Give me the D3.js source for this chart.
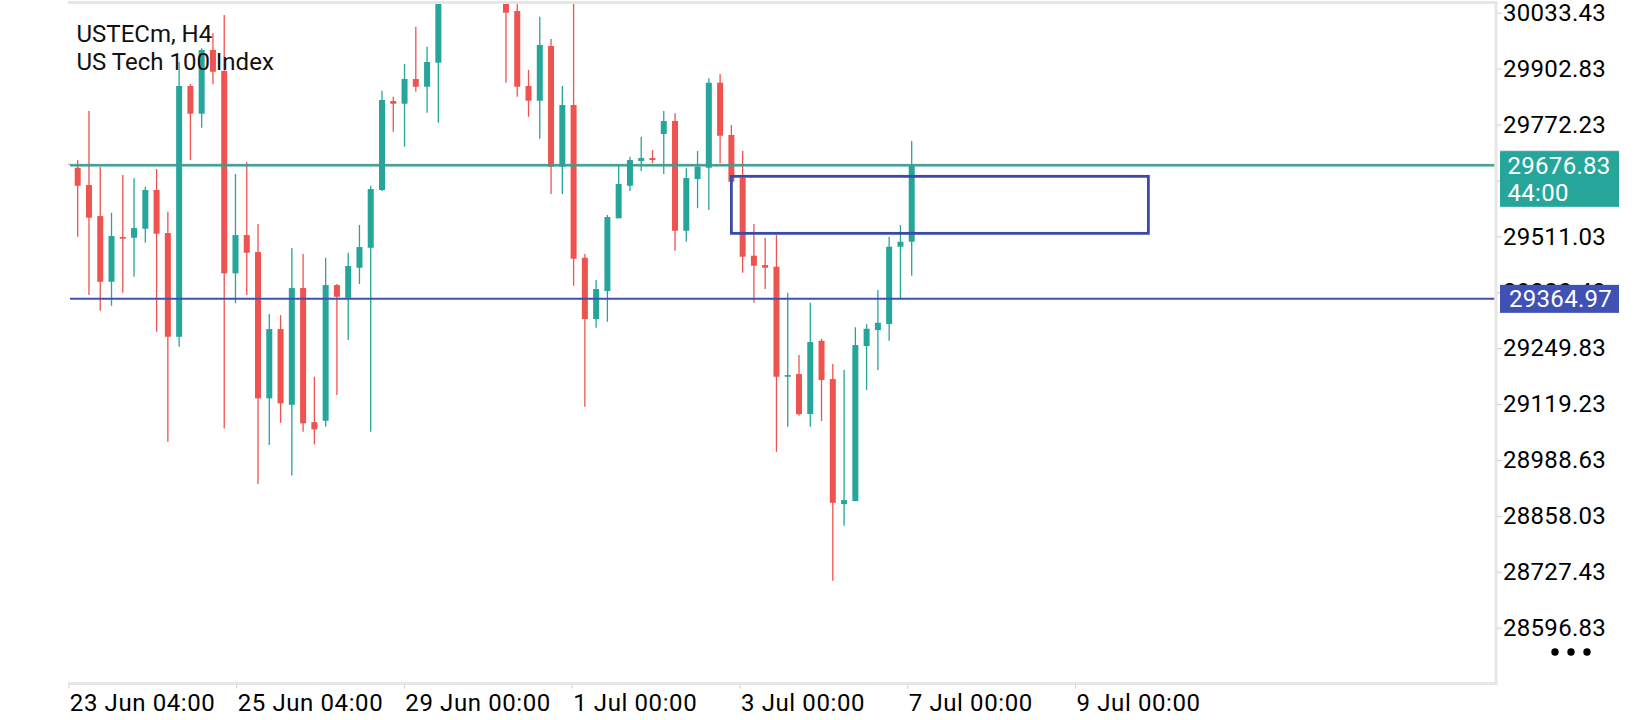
<!DOCTYPE html>
<html>
<head>
<meta charset="utf-8">
<title>USTECm, H4</title>
<script src="https://cdn.jsdelivr.net/npm/d3@7"></script>
<style>
  html, body { margin: 0; padding: 0; background: #fff; }
  svg { display: block; font-family: Roboto, "Noto Sans", sans-serif; }
</style>
</head>
<body>
<svg id="chart" width="1640" height="720"></svg>
<script>
/* ── Data ───────────────────────────────────────────────── */
const opens = [
  29671.3, 29630.9, 29558.4, 29404.9, 29509.4, 29507.7, 29528.8, 29619.2, 29518.7, 29276.4,
  29862.2, 29797.5, 29946.3, 29897.2, 29424.6, 29514.0, 29474.3, 29132.5, 29294.4, 29117.6,
  29390.2, 29077.1, 29080.2, 29397.2, 29367.6, 29437.6, 29484.4, 29619.2, 29827.1, 29820.8,
  29878.5, 29860.5, 29916.6, 30110.0, 30160.0, 30210.0, 30170.0, 30120.0, 30095.0, 30037.4,
  29862.2, 29827.8, 29955.6, 29673.6, 29817.8, 29461.0, 29317.8, 29383.2, 29553.1, 29629.2,
  29686.9, 29693.9, 29750.0, 29780.4, 29524.1, 29644.9, 29671.3, 29869.9, 29747.7, 29647.9,
  29465.7, 29444.0, 29440.0, 29183.0, 29189.3, 29095.8, 29267.1, 29177.6, 28885.6, 28892.6,
  29254.7, 29292.1, 29306.1, 29486.7, 29498.4
];
const highs = [
  29689.3, 29803.8, 29673.6, 29566.1, 29654.2, 29646.5, 29626.9, 29668.2, 29568.5, 29918.2,
  29866.8, 29950.3, 29985.3, 30028.1, 29656.6, 29683.9, 29539.7, 29329.5, 29327.1, 29483.7,
  29469.7, 29183.0, 29461.0, 29399.6, 29472.7, 29537.4, 29629.2, 29851.2, 29837.2, 29913.6,
  30000.7, 29954.0, 30130.0, 30180.0, 30230.0, 30260.0, 30200.0, 30150.0, 30110.0, 30070.0,
  29899.6, 30024.1, 29972.0, 29862.2, 30065.0, 29469.7, 29408.9, 29560.8, 29676.0, 29697.0,
  29743.7, 29712.6, 29803.8, 29798.4, 29669.9, 29710.3, 29880.2, 29890.2, 29771.0, 29710.3,
  29539.7, 29507.7, 29514.0, 29379.2, 29233.7, 29355.9, 29271.8, 29212.7, 29198.6, 29298.4,
  29306.1, 29385.5, 29510.1, 29537.4, 29733.7
];
const lows = [
  29510.1, 29373.9, 29337.2, 29348.9, 29379.2, 29416.6, 29496.1, 29288.1, 29031.1, 29253.1,
  29689.3, 29764.7, 29866.1, 29062.4, 29354.5, 29373.9, 28932.3, 29023.4, 29075.5, 28952.6,
  29054.5, 29025.0, 29066.2, 29140.2, 29268.7, 29399.6, 29054.5, 29616.8, 29755.4, 29720.4,
  29848.9, 29799.8, 29776.4, 30085.0, 30140.0, 30150.0, 30090.0, 30075.0, 29869.9, 29837.2,
  29790.4, 29739.0, 29609.8, 29609.8, 29395.6, 29112.9, 29297.5, 29311.5, 29553.1, 29616.8,
  29663.6, 29681.6, 29656.6, 29477.4, 29498.4, 29576.4, 29572.5, 29681.6, 29633.2, 29426.0,
  29355.9, 29387.9, 29007.7, 29066.2, 29091.9, 29066.2, 29079.5, 28706.4, 28834.8, 28892.6,
  29151.9, 29198.6, 29267.1, 29366.1, 29419.0
];
const closes = [
  29629.2, 29554.5, 29404.9, 29511.7, 29505.4, 29530.4, 29619.2, 29517.1, 29276.4, 29862.2,
  29797.5, 29946.3, 29895.6, 29424.6, 29514.0, 29472.7, 29132.5, 29294.4, 29120.8, 29390.2,
  29074.1, 29060.1, 29397.2, 29369.9, 29441.6, 29486.0, 29621.5, 29829.5, 29820.8, 29878.5,
  29860.5, 29918.2, 30110.0, 30160.0, 30210.0, 30170.0, 30120.0, 30095.0, 30033.4, 29860.5,
  29827.8, 29958.0, 29673.6, 29817.8, 29458.7, 29317.8, 29387.9, 29556.1, 29633.2, 29689.3,
  29693.9, 29689.3, 29780.4, 29524.1, 29647.2, 29673.6, 29869.9, 29746.0, 29638.6, 29463.4,
  29442.3, 29437.6, 29183.0, 29187.0, 29095.8, 29264.1, 29175.3, 28888.6, 28894.9, 29257.0,
  29295.1, 29309.1, 29486.7, 29498.4, 29676.83
];

const priceTicks = [
  30033.43, 29902.83, 29772.23, 29641.63, 29511.03, 29380.43,
  29249.83, 29119.23, 28988.63, 28858.03, 28727.43, 28596.83
];
const timeTickBars = [-0.83, 14.06, 28.94, 43.83, 58.72, 73.61, 88.5];
const timeLabels   = ['23 Jun 04:00', '25 Jun 04:00', '29 Jun 00:00', '1 Jul 00:00',
                      '3 Jul 00:00', '7 Jul 00:00', '9 Jul 00:00'];

const bidPrice   = 29676.83;
const askPrice   = 29679.3;
const levelPrice = 29364.97;
const zoneBars   = [58, 95];
const zonePrices = [29651.2, 29518.0];
const barTimer   = '44:00';

/* ── Layout ─────────────────────────────────────────────── */
const W = 1640, H = 720;
const plot = { left: 68, right: 1496, top: 2.5, bottom: 683.5 };
const UP = '#26a69a', DOWN = '#ef5350', BLUE = '#3f51b5', FRAME = '#e6e6e6';

const svg = d3.select('#chart');

const x = d3.scaleLinear().domain([0, 74]).range([77.7, 911.7]);
const y = d3.scaleLinear().domain([30033.43, 28596.83]).range([12.7, 627.7]);

const candles = opens.map((o, i) => ({
  i, o, h: highs[i], l: lows[i], c: closes[i]
}));

svg.append('rect').attr('width', W).attr('height', H).attr('fill', '#fff');

const defs = svg.append('defs');
defs.append('clipPath').attr('id', 'plot-clip')
  .append('rect')
  .attr('x', plot.left).attr('y', plot.top + 1)
  .attr('width', plot.right - plot.left - 1.5)
  .attr('height', plot.bottom - plot.top - 2.5);

/* ── Candles ────────────────────────────────────────────── */
function drawCandles() {
  const g = svg.append('g').attr('clip-path', 'url(#plot-clip)');
  const colour = d => d.c >= d.o ? UP : DOWN;

  g.selectAll('line.wick')
    .data(candles)
    .enter()
    .append('line')
    .attr('class', 'wick')
    .attr('x1', d => x(d.i)).attr('x2', d => x(d.i))
    .attr('y1', d => y(d.h)).attr('y2', d => y(d.l))
    .attr('stroke', colour)
    .attr('stroke-width', 1.3);

  g.selectAll('rect.body')
    .data(candles)
    .enter()
    .append('rect')
    .attr('class', 'body')
    .attr('x', d => x(d.i) - 3)
    .attr('width', 6)
    .attr('y', d => y(Math.max(d.o, d.c)))
    .attr('height', d => Math.max(1.5, Math.abs(y(d.o) - y(d.c))))
    .attr('fill', colour);
}

/* ── Levels, zone ───────────────────────────────────────── */
function drawLevels() {
  const g = svg.append('g').attr('clip-path', 'url(#plot-clip)');

  g.append('line')
    .attr('x1', plot.left).attr('x2', plot.right)
    .attr('y1', y(askPrice)).attr('y2', y(askPrice))
    .attr('stroke', DOWN).attr('stroke-width', 1).attr('opacity', 0.7);

  g.append('line')
    .attr('x1', plot.left + 2).attr('x2', plot.right)
    .attr('y1', y(bidPrice)).attr('y2', y(bidPrice))
    .attr('stroke', UP).attr('stroke-width', 2.2);

  g.append('line')
    .attr('x1', plot.left + 2).attr('x2', plot.right)
    .attr('y1', y(levelPrice)).attr('y2', y(levelPrice))
    .attr('stroke', BLUE).attr('stroke-width', 2);

  g.append('rect')
    .attr('x', x(zoneBars[0])).attr('y', y(zonePrices[0]))
    .attr('width', x(zoneBars[1]) - x(zoneBars[0]))
    .attr('height', y(zonePrices[1]) - y(zonePrices[0]))
    .attr('fill', 'none')
    .attr('stroke', '#3a4aa6')
    .attr('stroke-width', 2.8);
}

/* ── Frame + axes ───────────────────────────────────────── */
function drawAxes() {
  const frame = svg.append('g');
  frame.append('path')
    .attr('d', `M${plot.left},${plot.top}H${plot.right}V${plot.bottom}H${plot.left}`)
    .attr('fill', 'none')
    .attr('stroke', FRAME)
    .attr('stroke-width', 3);

  const yAxis = d3.axisRight(y)
    .tickValues(priceTicks)
    .tickFormat(d3.format('.2f'))
    .tickSize(5)
    .tickPadding(1);

  const ya = svg.append('g')
    .attr('transform', `translate(${plot.right + 1},0)`)
    .call(yAxis);
  ya.select('.domain').remove();
  ya.selectAll('.tick line').attr('stroke', '#cfcfcf');
  ya.selectAll('.tick text')
    .attr('fill', '#000')
    .attr('font-size', 24)
    .attr('font-family', 'Roboto')
    .attr('letter-spacing', 0.3);

  // labels fully covered by the bid tag are not drawn
  ya.selectAll('.tick text')
    .filter(d => Math.abs(y(d) - y(bidPrice)) < 28)
    .remove();

  // the one under the level tag only peeks out above the tag's top edge
  // (clip is in the tick's local space: the tick group sits at y(d))
  ya.selectAll('.tick')
    .filter(d => Math.abs(y(d) - y(levelPrice)) < 14)
    .each(function(d) {
      const cut = (y(levelPrice) - 14) - y(d);
      defs.append('clipPath').attr('id', 'above-level-tag')
        .append('rect')
        .attr('x', 0).attr('y', -40)
        .attr('width', 200).attr('height', 40 + cut);
      d3.select(this).select('text').attr('clip-path', 'url(#above-level-tag)');
    });

  const xAxis = d3.axisBottom(x)
    .tickValues(timeTickBars)
    .tickFormat((d, i) => timeLabels[i])
    .tickSize(4)
    .tickPadding(5);

  const xa = svg.append('g')
    .attr('transform', `translate(0,${plot.bottom + 1})`)
    .call(xAxis);
  xa.select('.domain').remove();
  xa.selectAll('.tick line').attr('stroke', '#cfcfcf');
  xa.selectAll('.tick text')
    .attr('text-anchor', 'start')
    .attr('x', 1)
    .attr('fill', '#000')
    .attr('font-size', 24)
    .attr('font-family', 'Roboto')
    .attr('letter-spacing', 0.6);
}

/* ── Price tags on the scale ────────────────────────────── */
function drawTags() {
  const fmt = d3.format('.2f');
  const tx = plot.right + 4;

  const bidY = y(bidPrice);
  svg.append('rect')
    .attr('x', tx).attr('y', bidY - 14.5)
    .attr('width', 119).attr('height', 56)
    .attr('fill', UP);
  svg.append('line')
    .attr('x1', tx).attr('x2', tx + 119)
    .attr('y1', bidY - 14).attr('y2', bidY - 14)
    .attr('stroke', '#b7807a').attr('stroke-width', 1);
  svg.append('text')
    .attr('x', tx + 7.5).attr('y', bidY + 8.5)
    .attr('fill', '#fff').attr('font-size', 24).attr('letter-spacing', 0.3)
    .text(fmt(bidPrice));
  svg.append('text')
    .attr('x', tx + 7.5).attr('y', bidY + 35.5)
    .attr('fill', '#fff').attr('font-size', 24).attr('letter-spacing', 0.3)
    .text(barTimer);

  const lvY = y(levelPrice);
  svg.append('rect')
    .attr('x', tx).attr('y', lvY - 14)
    .attr('width', 119).attr('height', 28)
    .attr('fill', BLUE);
  svg.append('text')
    .attr('x', tx + 9).attr('y', lvY + 8.5)
    .attr('fill', '#fff').attr('font-size', 24).attr('letter-spacing', 0.3)
    .text(fmt(levelPrice));
}

/* ── Title + menu dots ──────────────────────────────────── */
function drawLabels() {
  const t = svg.append('g').attr('fill', '#111').attr('font-size', 24);
  t.append('text').attr('x', 76.5).attr('y', 42.3).text('USTECm, H4');
  t.append('text').attr('x', 76.5).attr('y', 70.2).text('US Tech 100 Index');

  svg.append('g')
    .selectAll('circle')
    .data([0, 1, 2])
    .enter()
    .append('circle')
    .attr('cx', d => 1555 + d * 16)
    .attr('cy', 652)
    .attr('r', 3.7)
    .attr('fill', '#000');
}

drawCandles();
drawLevels();
drawAxes();
drawTags();
drawLabels();
</script>
</body>
</html>
